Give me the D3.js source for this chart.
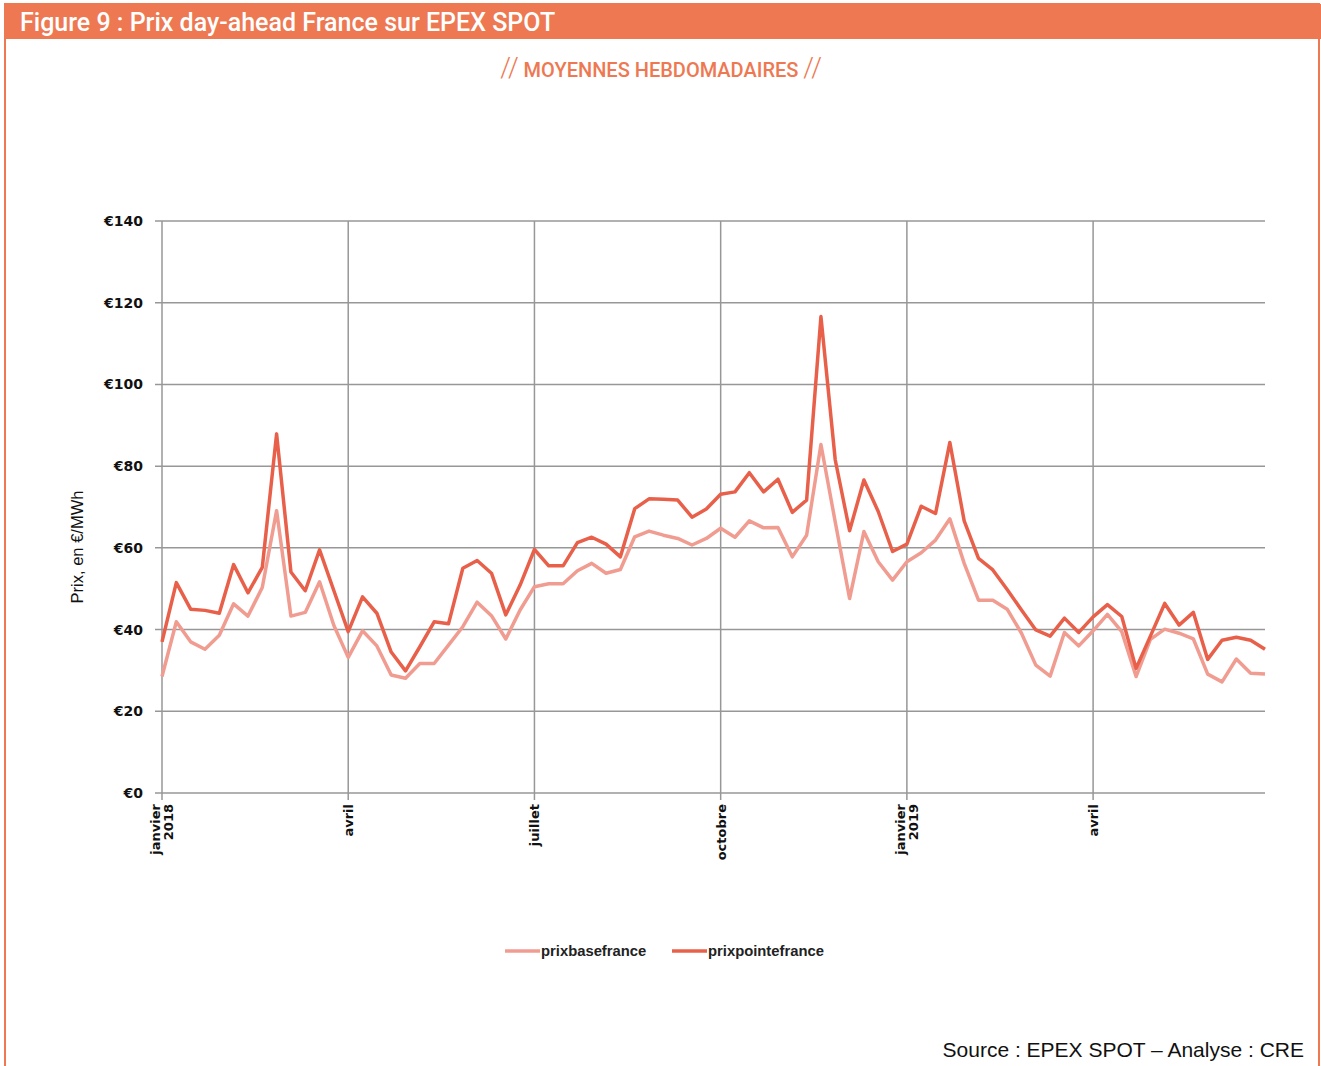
<!DOCTYPE html>
<html>
<head>
<meta charset="utf-8">
<script src="https://cdn.jsdelivr.net/npm/d3@7"></script>
<style>
  body { margin: 0; background: #fff; }
  svg { display: block; }
</style>
</head>
<body>
<div id="chart"></div>
<script>
// weekly averages, one value per Monday
const weeks = [
  "2018-01-01","2018-01-08","2018-01-15","2018-01-22","2018-01-29","2018-02-05","2018-02-12","2018-02-19","2018-02-26",
  "2018-03-05","2018-03-12","2018-03-19","2018-03-26","2018-04-02","2018-04-09","2018-04-16","2018-04-23","2018-04-30",
  "2018-05-07","2018-05-14","2018-05-21","2018-05-28","2018-06-04","2018-06-11","2018-06-18","2018-06-25","2018-07-02",
  "2018-07-09","2018-07-16","2018-07-23","2018-07-30","2018-08-06","2018-08-13","2018-08-20","2018-08-27","2018-09-03",
  "2018-09-10","2018-09-17","2018-09-24","2018-10-01","2018-10-08","2018-10-15","2018-10-22","2018-10-29","2018-11-05",
  "2018-11-12","2018-11-19","2018-11-26","2018-12-03","2018-12-10","2018-12-17","2018-12-24","2018-12-31","2019-01-07",
  "2019-01-14","2019-01-21","2019-01-28","2019-02-04","2019-02-11","2019-02-18","2019-02-25","2019-03-04","2019-03-11",
  "2019-03-18","2019-03-25","2019-04-01","2019-04-08","2019-04-15","2019-04-22","2019-04-29","2019-05-06","2019-05-13",
  "2019-05-20","2019-05-27","2019-06-03","2019-06-10","2019-06-17","2019-06-24"
]
const prixbasefrance = [
  28.5, 41.9, 37.0, 35.2, 38.6, 46.3, 43.3, 50.3, 69.1, 43.3, 44.2, 51.7, 41.0,
  33.2, 39.7, 36.0, 28.9, 28.1, 31.7, 31.7, 36.2, 40.7, 46.7, 43.4, 37.7, 44.8,
  50.5, 51.2, 51.2, 54.4, 56.2, 53.8, 54.7, 62.7, 64.1, 63.1, 62.3, 60.7, 62.3,
  64.8, 62.6, 66.6, 64.9, 65.0, 57.8, 63.1, 85.3, 66.3, 47.6, 64.0, 56.6, 52.1,
  56.6, 58.8, 61.9, 67.1, 56.2, 47.2, 47.2, 45.0, 39.1, 31.3, 28.6, 39.3, 36.0,
  39.7, 43.7, 39.5, 28.5, 37.6, 40.1, 39.1, 37.7, 29.1, 27.2, 32.8, 29.3, 29.1
]
const prixpointefrance = [
  37.0, 51.5, 45.0, 44.7, 44.0, 55.9, 49.0, 55.2, 87.9, 54.1, 49.5, 59.5, 49.5,
  39.5, 48.0, 44.0, 34.5, 29.9, 35.8, 41.9, 41.4, 55.0, 56.9, 53.8, 43.6, 50.9,
  59.6, 55.6, 55.6, 61.3, 62.6, 60.9, 57.8, 69.6, 72.0, 71.9, 71.7, 67.5, 69.5,
  73.1, 73.7, 78.4, 73.7, 76.8, 68.7, 71.7, 116.6, 81.5, 64.2, 76.6, 68.9, 59.1,
  60.9, 70.2, 68.4, 85.8, 66.6, 57.4, 54.6, 49.8, 44.8, 39.9, 38.4, 42.8, 39.3,
  43.1, 46.1, 43.2, 30.5, 38.4, 46.4, 41.1, 44.2, 32.7, 37.4, 38.1, 37.4, 35.2
]
const yTicks = [0, 20, 40, 60, 80, 100, 120, 140]
const xTicks = ["2018-01-01", "2018-04-02", "2018-07-02", "2018-10-01", "2018-12-31", "2019-04-01"]
const xTickLabels = [["janvier", "2018"], ["avril"], ["juillet"], ["octobre"], ["janvier", "2019"], ["avril"]]
const seriesNames = ["prixbasefrance", "prixpointefrance"]

const W = 1321, H = 1066
const orange = "#EE7851"
const baseColor = "#F19C91"
const pointeColor = "#E8604A"
const gridColor = "#979797"

const parse = d3.utcParse("%Y-%m-%d")
const dates = weeks.map(parse)

const svg = d3.select('#chart').append('svg').attr('width', W).attr('height', H)

// frame + title band
svg.append('rect').attr('x', 5).attr('y', 4).attr('width', 1314).attr('height', 1080)
  .attr('fill', 'none').attr('stroke', orange).attr('stroke-width', 2)
svg.append('rect').attr('x', 4).attr('y', 4).attr('width', 1317).attr('height', 35).attr('fill', orange)
svg.append('text').attr('x', 20).attr('y', 31)
  .attr('font-family', 'Roboto, "Liberation Sans", sans-serif').attr('font-size', 25).attr('font-weight', 500)
  .attr('fill', '#fff').text('Figure 9 : Prix day-ahead France sur EPEX SPOT')

const sub = svg.append('text').attr('x', 661).attr('y', 77).attr('text-anchor', 'middle')
  .attr('font-family', 'Roboto, "Liberation Sans", sans-serif').attr('font-size', 20).attr('font-weight', 500)
  .attr('fill', orange)
sub.append('tspan').attr('font-size', 27).attr('font-weight', 300).text('//')
sub.append('tspan').text(' MOYENNES HEBDOMADAIRES ')
sub.append('tspan').attr('font-size', 27).attr('font-weight', 300).text('//')

const x = d3.scaleUtc().domain([dates[0], dates[dates.length - 1]]).range([162, 1265])
const y = d3.scaleLinear().domain([0, 140]).range([793, 221])

const g = svg.append('g')

// horizontal grid
g.append('g').selectAll('line').data(yTicks).join('line')
  .attr('x1', 155).attr('x2', 1265)
  .attr('y1', d => y(d)).attr('y2', d => y(d))
  .attr('stroke', gridColor).attr('stroke-width', 1.5)

// vertical grid
g.append('g').selectAll('line').data(xTicks).join('line')
  .attr('x1', d => x(parse(d))).attr('x2', d => x(parse(d)))
  .attr('y1', 221).attr('y2', 800)
  .attr('stroke', gridColor).attr('stroke-width', 1.5)

// y labels
g.append('g').selectAll('text').data(yTicks).join('text')
  .attr('x', 143).attr('y', d => y(d) + 5).attr('text-anchor', 'end')
  .attr('font-family', '"DejaVu Sans", sans-serif').attr('font-size', 14).attr('font-weight', 'bold')
  .attr('fill', '#111').text(d => '€' + d)

svg.append('text').attr('transform', 'translate(83,547) rotate(-90)').attr('text-anchor', 'middle')
  .attr('font-family', '"Liberation Sans", Arial, sans-serif').attr('font-size', 16.5)
  .attr('fill', '#111').text('Prix, en €/MWh')

// x labels, rotated
const xl = g.append('g').selectAll('text').data(xTicks).join('text')
  .attr('transform', d => `translate(${x(parse(d))},804) rotate(-90)`)
  .attr('text-anchor', 'end')
  .attr('font-family', '"DejaVu Sans", sans-serif').attr('font-size', 13).attr('font-weight', 'bold')
  .attr('fill', '#111')
xl.each(function (d, i) {
  const lines = xTickLabels[i]
  const t = d3.select(this)
  lines.forEach((s, j) => {
    t.append('tspan').attr('x', 0).attr('dy', j === 0 ? (lines.length > 1 ? -2 : 5) : 13).text(s)
  })
})

// lines
const line = d3.line().x((d, i) => x(dates[i])).y(d => y(d))
g.append('path').datum(prixbasefrance).attr('d', line)
  .attr('fill', 'none').attr('stroke', baseColor).attr('stroke-width', 3.5).attr('stroke-linejoin', 'round')
g.append('path').datum(prixpointefrance).attr('d', line)
  .attr('fill', 'none').attr('stroke', pointeColor).attr('stroke-width', 3.5).attr('stroke-linejoin', 'round')

// legend
const legend = svg.append('g')
const legendX = [505, 672]
const legendColors = [baseColor, pointeColor]
seriesNames.forEach((name, i) => {
  legend.append('line').attr('x1', legendX[i]).attr('x2', legendX[i] + 35).attr('y1', 951).attr('y2', 951)
    .attr('stroke', legendColors[i]).attr('stroke-width', 3.5)
  legend.append('text').attr('x', legendX[i] + 36).attr('y', 956)
    .attr('font-family', '"Liberation Sans", Arial, sans-serif').attr('font-size', 14.8).attr('font-weight', 'bold')
    .attr('fill', '#222').text(name)
})

svg.append('text').attr('x', 1304).attr('y', 1057).attr('text-anchor', 'end')
  .attr('font-family', '"Liberation Sans", Arial, sans-serif').attr('font-size', 21)
  .attr('fill', '#111').text('Source : EPEX SPOT – Analyse : CRE')
</script>
</body>
</html>
